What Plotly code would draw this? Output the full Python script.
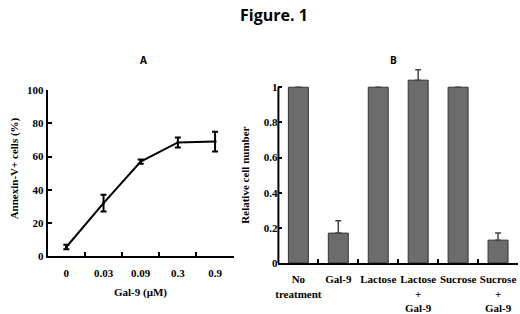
import plotly.graph_objects as go

# Panel A data
conc_labels = ["0", "0.03", "0.09", "0.3", "0.9"]
annexin_pct = [5.6, 32, 57, 68.5, 69]
annexin_err = [1.3, 5, 1.3, 3, 6]

# Panel B data
groups = ["No<br>treatment", "Gal-9", "Lactose", "Lactose<br>+<br>Gal-9", "Sucrose", "Sucrose<br>+<br>Gal-9"]
rel_cells = [1.0, 0.17, 1.0, 1.04, 1.0, 0.13]
rel_err = [0, 0.07, 0, 0.06, 0, 0.04]

W, H = 520, 314
def px(x): return x / W
def py(y): return 1 - y / H

serif = "Liberation Serif"
tfont = dict(family=serif, size=11, color="black", weight="bold")

fig = go.Figure()
fig.add_trace(go.Scatter(
    x=conc_labels, y=annexin_pct, mode="lines+markers",
    line=dict(color="black", width=2), marker=dict(size=3, color="black"),
    error_y=dict(type="data", array=annexin_err, color="black", thickness=2, width=3),
    xaxis="x", yaxis="y", showlegend=False, cliponaxis=False))
fig.add_trace(go.Bar(
    x=groups, y=rel_cells, width=0.5,
    marker=dict(color="#6c6c6c", line=dict(color="#333333", width=1)),
    error_y=dict(type="data", array=rel_err, symmetric=False, arrayminus=[0]*6,
                 color="#444444", thickness=1.5, width=3),
    xaxis="x2", yaxis="y2", showlegend=False, cliponaxis=False))

axis_common = dict(showgrid=False, zeroline=False, ticks="inside", ticklen=4, tickwidth=2,
                   tickcolor="black", tickfont=tfont, tickangle=0)

# B: value 1 at y=85px, 0 at y=269px -> 184 px per unit; extend to 1.12
b_top_val = 1.12
b_top_px = 269 - 184 * b_top_val

def ann(text, x, y, size, family=serif, angle=0):
    return dict(text=text, x=px(x), y=py(y), xref="paper", yref="paper",
                xanchor="center", yanchor="middle", textangle=angle, showarrow=False,
                font=dict(family=family, size=size, color="black", weight="bold"))

fig.update_layout(
    width=W, height=H, margin=dict(l=0, r=0, t=0, b=0),
    paper_bgcolor="white", plot_bgcolor="white",
    xaxis=dict(domain=[px(45), px(232)], anchor="y", type="category",
               range=[-0.5, 4.5], tickson="boundaries", showline=True, linecolor="black",
               linewidth=2, ticklabelstandoff=5, **axis_common),
    yaxis=dict(domain=[py(262), py(88)], anchor="x", range=[0, 100],
               tickvals=[0, 20, 40, 60, 80, 100], showline=True, linecolor="black",
               linewidth=2, **axis_common),
    xaxis2=dict(domain=[px(277), px(518)], anchor="y2", type="category",
                range=[-0.5, 5.5], tickson="boundaries", showline=True, linecolor="black",
                linewidth=2, ticklabelstandoff=5, **axis_common),
    yaxis2=dict(domain=[py(269), py(b_top_px)], anchor="x2", range=[0, b_top_val],
                tickvals=[0, 0.2, 0.4, 0.6, 0.8, 1], ticktext=["0", "0.2", "0.4", "0.6", "0.8", "1"],
                showline=False, **axis_common),
    shapes=[dict(type="line", xref="x2 domain", yref="y2", x0=0, x1=0, y0=0, y1=1,
                 line=dict(color="black", width=2))],
    annotations=[
        ann("Figure. 1", 273, 9, 16, family="Open Sans"),
        ann("A", 141, 57, 10, family="Open Sans"),
        ann("B", 393, 57, 10, family="Open Sans"),
        ann("Gal-9 (μM)", 138, 300, 11),
        ann("Annexin-V+ cells (%)", 11, 170, 11, angle=-90),
        ann("Relative cell number", 244, 177, 11, angle=-90),
    ],
)

fig.write_html("out.html", config={"displayModeBar": False},
               post_script="document.body.style.margin='0';document.body.style.overflow='hidden';")
